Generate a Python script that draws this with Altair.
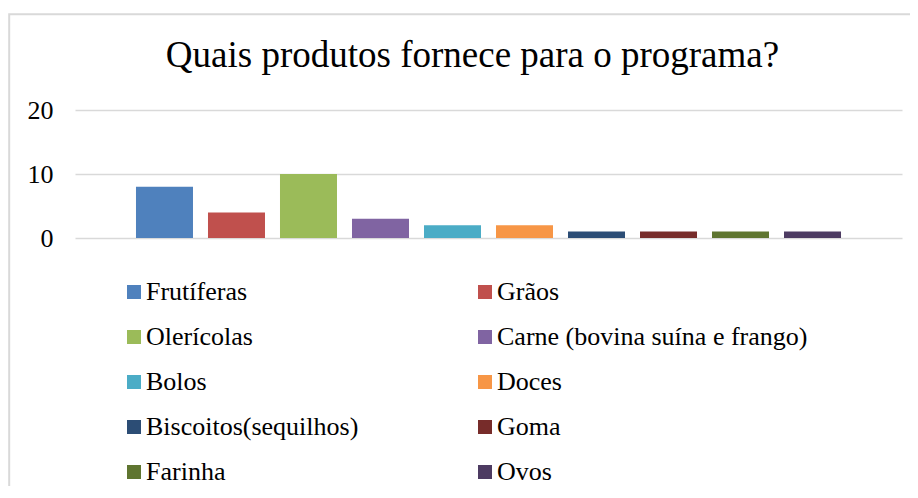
import altair as alt
import pandas as pd

categories = ["Frutíferas", "Grãos", "Olerícolas", "Carne (bovina suína e frango)",
              "Bolos", "Doces", "Biscoitos(sequilhos)", "Goma", "Farinha", "Ovos"]
values = [8, 4, 10, 3, 2, 2, 1, 1, 1, 1]
colors = ["#4F81BD", "#C0504D", "#9BBB59", "#8064A2", "#4BACC6",
          "#F79646", "#2C4D75", "#772C2A", "#5F7530", "#4D3B62"]
y_ticks = [0, 10, 20]
title_text = "Quais produtos fornece para o programa?"

# legend layout: two columns filled row by row
legend_col = [i % 2 for i in range(len(categories))]
legend_row = [i // 2 for i in range(len(categories))]

FONT = "Liberation Serif"

df = pd.DataFrame({"produto": categories, "valor": values})
leg_df = pd.DataFrame({"produto": categories, "col": legend_col, "row": legend_row})
one_df = pd.DataFrame({"k": [0]})

color_scale = alt.Scale(domain=categories, range=colors)

frame = alt.Chart(one_df).mark_rect(
    fill=None, stroke="#d9d9d9", strokeWidth=2
).encode(
    x=alt.value(-65.8), x2=alt.value(900),
    y=alt.value(-95.7), y2=alt.value(500)
)

title = alt.Chart(one_df).mark_text(
    text=title_text, font=FONT, fontSize=37, color="black",
    align="center", baseline="alphabetic"
).encode(x=alt.value(397.5), y=alt.value(-43))

bars = alt.Chart(df).mark_bar().encode(
    x=alt.X("produto:N", sort=categories,
            scale=alt.Scale(paddingInner=0.2083, paddingOuter=0.847),
            axis=None),
    y=alt.Y("valor:Q",
            scale=alt.Scale(domain=[0, 20], nice=False),
            axis=alt.Axis(values=y_ticks, title=None, domain=False, ticks=False,
                          labelFont=FONT, labelFontSize=26, labelColor="black",
                          labelPadding=22, labelFlush=False,
                          gridColor="#d9d9d9", gridWidth=1.5)),
    color=alt.Color("produto:N", sort=categories, scale=color_scale, legend=None)
)

leg_x = alt.X("col:Q", scale=alt.Scale(domain=[0, 1], range=[59, 410]), axis=None)
leg_y = alt.Y("row:Q", scale=alt.Scale(domain=[0, 4], range=[182, 362]), axis=None)

leg_sq = alt.Chart(leg_df).mark_square(size=196, opacity=1, strokeWidth=0).encode(
    x=leg_x, y=leg_y,
    color=alt.Color("produto:N", sort=categories, scale=color_scale, legend=None)
)

leg_txt = alt.Chart(leg_df).mark_text(
    align="left", baseline="alphabetic", dx=12, dy=8,
    font=FONT, fontSize=26, color="black"
).encode(x=leg_x, y=leg_y, text="produto:N")

chart = alt.layer(frame, title, bars, leg_sq, leg_txt).resolve_scale(
    x="independent", y="independent"
).properties(
    width=827, height=128,
    padding={"left": 67, "top": 102, "right": 8, "bottom": 248},
    autosize=alt.AutoSizeParams(type="none"),
).configure(
    background="white", font=FONT
).configure_view(
    stroke=None
)

chart.save("out.html", embed_options={"renderer": "svg", "actions": False})
